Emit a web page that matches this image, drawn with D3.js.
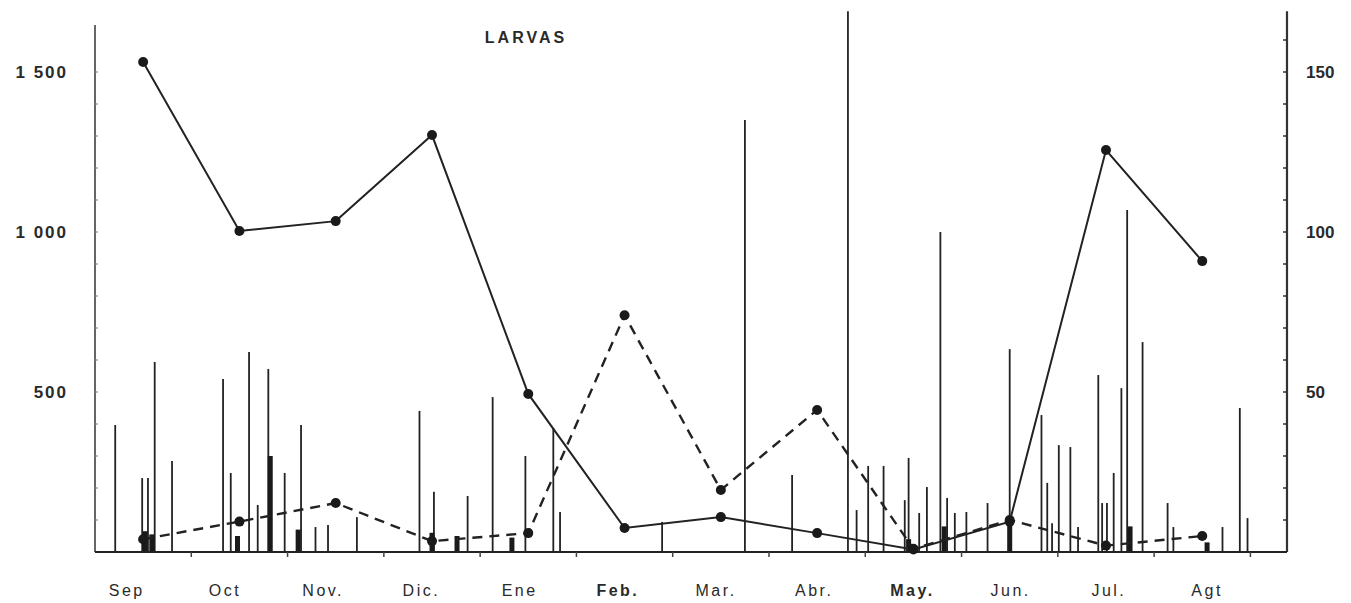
<!DOCTYPE html>
<html>
<head>
<meta charset="utf-8">
<script src="https://cdn.jsdelivr.net/npm/d3@7"></script>
<style>
    body { margin: 0; background: #fff; }
    text { font-family: "Liberation Sans", Arial, sans-serif; fill: #2a2a2a; }
</style>
</head>
<body>
<div id="chart"></div>
<script>
// month labels (Sep .. Agt)
const months = ["Sep", "Oct", "Nov.", "Dic.", "Ene", "Feb.", "Mar.", "Abr.", "May.", "Jun.", "Jul.", "Agt"];

// monthly larvae, left axis (solid line)
const larvasMes = [1531, 1003, 1034, 1303, 494, 75, 109, 59, 8, 95, 1256, 909];
// monthly series on right axis (dashed line)
const larvasDer = [4, 9.5, 15.3, 3.4, 5.9, 74, 19.4, 44.4, 1, 10, 2, 5];

// individual samples: position in months (0 = mid Sep) and count
const muestraMes = [-0.29, -0.01, 0.05, 0.12, 0.30, 0.83, 0.91, 1.10, 1.19, 1.30,
    1.47, 1.64, 1.79, 1.92, 2.22, 2.87, 3.02, 3.37, 3.63, 3.97,
    4.26, 4.33, 5.39, 6.25, 6.74, 7.32, 7.41, 7.53, 7.69, 7.91,
    7.95, 8.06, 8.14, 8.28, 8.35, 8.43, 8.55, 8.77, 9.00, 9.33,
    9.39, 9.44, 9.51, 9.63, 9.71, 9.92, 9.96, 10.01, 10.08, 10.16,
    10.22, 10.38, 10.64, 10.70, 11.21, 11.39, 11.47];
const muestraVal = [397, 231, 231, 594, 284, 541, 247, 625, 147, 572,
    247, 397, 78, 84, 109, 441, 188, 175, 484, 300,
    387, 125, 94, 1350, 241, 1690, 131, 269, 269, 162,
    294, 122, 203, 1000, 169, 122, 125, 153, 634, 428,
    216, 90, 334, 328, 78, 553, 153, 153, 247, 512,
    1069, 656, 153, 78, 78, 450, 106];

// small dense clumps near the baseline
const grupoMes = [0.02, 0.09, 0.98, 1.32, 1.61, 3.00, 3.26, 3.83, 7.95, 8.32, 9.00, 10.25, 11.05];
const grupoVal = [65, 55, 50, 300, 70, 60, 50, 45, 40, 80, 110, 80, 30];

const leftTicks = [500, 1000, 1500];
const leftTickText = ["500", "1 000", "1 500"];
const rightTicks = [50, 100, 150];

class LarvasVis {
    constructor(_parentElement) {
        this.parentElement = _parentElement;
        this.initVis();
    }

    initVis() {
        let vis = this;

        vis.width = 1351;
        vis.height = 603;
        vis.left = 95;
        vis.right = 1287;
        vis.base = 552;

        vis.svg = d3.select("#" + vis.parentElement).append("svg")
            .attr("width", vis.width)
            .attr("height", vis.height);

        // month index scale, -0.5 is the left axis
        vis.x = d3.scaleLinear().domain([-0.5, 11.88]).range([vis.left, vis.right]);
        vis.yL = d3.scaleLinear().domain([0, 1500]).range([vis.base, 72]);
        vis.yR = d3.scaleLinear().domain([0, 150]).range([vis.base, 72]);

        // axes lines
        vis.svg.append("line")
            .attr("x1", vis.left).attr("x2", vis.left)
            .attr("y1", vis.yL(1647)).attr("y2", vis.base)
            .attr("stroke", "#666").attr("stroke-width", 2);
        vis.svg.append("line")
            .attr("x1", vis.right).attr("x2", vis.right)
            .attr("y1", vis.yR(169)).attr("y2", vis.base)
            .attr("stroke", "#333").attr("stroke-width", 2.2);

        // minor ticks
        vis.svg.selectAll(".ltick")
            .data(d3.range(100, 1600, 100))
            .enter().append("line")
            .attr("x1", vis.left).attr("x2", vis.left + 3)
            .attr("y1", d => vis.yL(d)).attr("y2", d => vis.yL(d))
            .attr("stroke", "#888").attr("stroke-width", 1.2);
        vis.svg.selectAll(".rtick")
            .data(d3.range(10, 170, 10))
            .enter().append("line")
            .attr("x1", vis.right - 4).attr("x2", vis.right)
            .attr("y1", d => vis.yR(d)).attr("y2", d => vis.yR(d))
            .attr("stroke", "#333").attr("stroke-width", 1.5);

        // tick labels
        vis.svg.selectAll(".llab")
            .data(leftTicks)
            .enter().append("text")
            .attr("x", 68)
            .attr("y", d => vis.yL(d) + 6)
            .attr("text-anchor", "end")
            .style("font-size", "17px")
            .style("font-weight", "bold")
            .style("letter-spacing", "2px")
            .text((d, i) => leftTickText[i]);
        vis.svg.selectAll(".rlab")
            .data(rightTicks)
            .enter().append("text")
            .attr("x", 1306)
            .attr("y", d => vis.yR(d) + 6)
            .style("font-size", "17px")
            .style("font-weight", "bold")
            .text(d => d);

        // title
        vis.svg.append("text")
            .attr("x", 526).attr("y", 43)
            .attr("text-anchor", "middle")
            .style("font-size", "16px")
            .style("font-weight", "bold")
            .style("letter-spacing", "3px")
            .text("LARVAS");

        // sample spikes
        vis.svg.selectAll(".spike")
            .data(muestraMes)
            .enter().append("line")
            .attr("class", "spike")
            .attr("x1", d => vis.x(d)).attr("x2", d => vis.x(d))
            .attr("y1", vis.base)
            .attr("y2", (d, i) => vis.yL(muestraVal[i]))
            .attr("stroke", "#222").attr("stroke-width", 1.8);

        vis.svg.selectAll(".clump")
            .data(grupoMes)
            .enter().append("rect")
            .attr("class", "clump")
            .attr("x", d => vis.x(d) - 2.5)
            .attr("width", 5)
            .attr("y", (d, i) => vis.yL(grupoVal[i]))
            .attr("height", (d, i) => vis.base - vis.yL(grupoVal[i]))
            .attr("fill", "#1a1a1a");

        // baseline and month boundary ticks
        vis.svg.append("line")
            .attr("x1", vis.left).attr("x2", vis.right)
            .attr("y1", vis.base).attr("y2", vis.base)
            .attr("stroke", "#222").attr("stroke-width", 2.2);
        vis.svg.selectAll(".mtick")
            .data(d3.range(0.5, 11.6, 1))
            .enter().append("line")
            .attr("x1", d => vis.x(d)).attr("x2", d => vis.x(d))
            .attr("y1", vis.base).attr("y2", vis.base + 5)
            .attr("stroke", "#444").attr("stroke-width", 1.5);

        // dashed series (right axis)
        let lineR = d3.line()
            .x((d, i) => vis.x(i))
            .y(d => vis.yR(d));
        vis.svg.append("path")
            .datum(larvasDer)
            .attr("d", lineR)
            .attr("fill", "none")
            .attr("stroke", "#222")
            .attr("stroke-width", 2.4)
            .attr("stroke-dasharray", "10,7");
        vis.svg.selectAll(".dotR")
            .data(larvasDer)
            .enter().append("circle")
            .attr("cx", (d, i) => vis.x(i))
            .attr("cy", d => vis.yR(d))
            .attr("r", 5)
            .attr("fill", "#1a1a1a");

        // solid series (left axis)
        let lineL = d3.line()
            .x((d, i) => vis.x(i))
            .y(d => vis.yL(d));
        vis.svg.append("path")
            .datum(larvasMes)
            .attr("d", lineL)
            .attr("fill", "none")
            .attr("stroke", "#222")
            .attr("stroke-width", 2);
        vis.svg.selectAll(".dotL")
            .data(larvasMes)
            .enter().append("circle")
            .attr("cx", (d, i) => vis.x(i))
            .attr("cy", d => vis.yL(d))
            .attr("r", 5)
            .attr("fill", "#1a1a1a");

        // month labels, spaced a little wider than the month centres
        vis.svg.selectAll(".mlab")
            .data(months)
            .enter().append("text")
            .attr("x", (d, i) => vis.x(i * 1.02 - 0.17))
            .attr("y", 596)
            .attr("text-anchor", "middle")
            .style("font-size", "16px")
            .style("letter-spacing", "2.5px")
            .style("font-weight", d => (d === "Feb." || d === "May.") ? "bold" : "normal")
            .text(d => d);
    }
}

new LarvasVis("chart");
</script>
</body>
</html>
